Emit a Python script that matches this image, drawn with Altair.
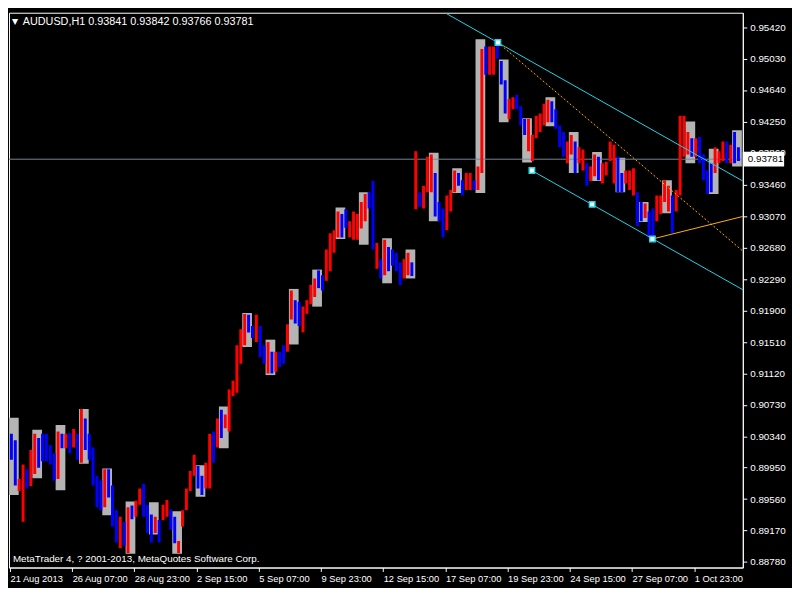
import json
import altair as alt
import pandas as pd

# ---------------- data ----------------
caption_text = "AUDUSD,H1  0.93841 0.93842 0.93766 0.93781"
copyright_text = "MetaTrader 4, ? 2001-2013, MetaQuotes Software Corp."
bid_price = 0.93781

# hourly bars, grouped by 4 hours: high / low / direction (r = up, b = down)
group_high = [
    0.9037, 0.9029, 0.8981, 0.8999, 0.8993, 0.9017, 0.9037, 0.9032, 0.9037, 0.9037,
    0.9023, 0.9013, 0.9040, 0.9037, 0.9037, 0.9038, 0.9043, 0.9037, 0.9068, 0.9056,
    0.9037, 0.9020, 0.8985, 0.8979, 0.8993, 0.8993, 0.8973, 0.8942, 0.8934, 0.8928,
    0.8946, 0.8948, 0.8954, 0.8969, 0.8975, 0.8949, 0.8937, 0.8934, 0.8930, 0.8949,
    0.8955, 0.8943, 0.8934, 0.8904, 0.8942, 0.8969, 0.8991, 0.9011, 0.8997, 0.8985,
    0.9001, 0.9037, 0.9040, 0.9056, 0.9067, 0.9061, 0.9092, 0.9103, 0.9147, 0.9167,
    0.9186, 0.9185, 0.9171, 0.9185, 0.9171, 0.9147, 0.9151, 0.9139, 0.9139, 0.9139,
    0.9147, 0.9173, 0.9215, 0.9203, 0.9201, 0.9195, 0.9203, 0.9222, 0.9230, 0.9240,
    0.9234, 0.9266, 0.9286, 0.9290, 0.9313, 0.9310, 0.9316, 0.9301, 0.9313, 0.9310,
    0.9325, 0.9335, 0.9337, 0.9351, 0.9274, 0.9254, 0.9278, 0.9269, 0.9266, 0.9262,
    0.9250, 0.9254, 0.9262, 0.9250, 0.9388, 0.9337, 0.9345, 0.9381, 0.9384, 0.9361,
    0.9325, 0.9317, 0.9333, 0.9340, 0.9364, 0.9361, 0.9352, 0.9361, 0.9361, 0.9352,
    0.9369, 0.9515, 0.9518, 0.9518, 0.9518, 0.9523, 0.9500, 0.9476, 0.9453, 0.9455,
    0.9458, 0.9444, 0.9428, 0.9428, 0.9408, 0.9432, 0.9435, 0.9447, 0.9452, 0.9450,
    0.9440, 0.9420, 0.9412, 0.9400, 0.9408, 0.9400, 0.9393, 0.9390, 0.9373, 0.9369,
    0.9384, 0.9381, 0.9373, 0.9375, 0.9400, 0.9396, 0.9381, 0.9361, 0.9364, 0.9364,
    0.9367, 0.9337, 0.9325, 0.9323, 0.9313, 0.9317, 0.9333, 0.9333, 0.9352, 0.9345,
    0.9333, 0.9340, 0.9432, 0.9432, 0.9412, 0.9404, 0.9404, 0.9406, 0.9384, 0.9364,
    0.9373, 0.9393, 0.9388, 0.9400, 0.9400, 0.9396, 0.9412, 0.9393,
]
group_low = [
    0.9005, 0.8973, 0.8966, 0.8928, 0.8969, 0.8972, 0.8987, 0.8995, 0.9003, 0.9003,
    0.8999, 0.8979, 0.8981, 0.9019, 0.9019, 0.9013, 0.9020, 0.9005, 0.9001, 0.9017,
    0.9005, 0.8973, 0.8946, 0.8942, 0.8946, 0.8958, 0.8922, 0.8902, 0.8895, 0.8898,
    0.8889, 0.8931, 0.8934, 0.8949, 0.8934, 0.8914, 0.8902, 0.8914, 0.8902, 0.8930,
    0.8934, 0.8918, 0.8901, 0.8889, 0.8922, 0.8942, 0.8966, 0.8985, 0.8969, 0.8961,
    0.8969, 0.8969, 0.9001, 0.9020, 0.9032, 0.9044, 0.9040, 0.9084, 0.9088, 0.9124,
    0.9147, 0.9163, 0.9156, 0.9151, 0.9132, 0.9124, 0.9112, 0.9112, 0.9114, 0.9120,
    0.9124, 0.9139, 0.9179, 0.9174, 0.9171, 0.9163, 0.9186, 0.9198, 0.9207, 0.9218,
    0.9215, 0.9227, 0.9239, 0.9262, 0.9281, 0.9281, 0.9293, 0.9281, 0.9278, 0.9278,
    0.9292, 0.9301, 0.9317, 0.9266, 0.9242, 0.9230, 0.9234, 0.9239, 0.9246, 0.9239,
    0.9222, 0.9230, 0.9234, 0.9233, 0.9316, 0.9319, 0.9317, 0.9337, 0.9337, 0.9307,
    0.9301, 0.9281, 0.9290, 0.9313, 0.9337, 0.9345, 0.9333, 0.9340, 0.9340, 0.9340,
    0.9340, 0.9361, 0.9483, 0.9483, 0.9483, 0.9503, 0.9471, 0.9435, 0.9428, 0.9440,
    0.9440, 0.9420, 0.9408, 0.9388, 0.9376, 0.9404, 0.9412, 0.9420, 0.9424, 0.9424,
    0.9416, 0.9393, 0.9381, 0.9373, 0.9384, 0.9361, 0.9373, 0.9364, 0.9345, 0.9351,
    0.9357, 0.9352, 0.9348, 0.9358, 0.9376, 0.9348, 0.9337, 0.9337, 0.9348, 0.9340,
    0.9333, 0.9295, 0.9301, 0.9305, 0.9281, 0.9281, 0.9301, 0.9310, 0.9325, 0.9313,
    0.9286, 0.9313, 0.9333, 0.9381, 0.9384, 0.9381, 0.9381, 0.9373, 0.9352, 0.9335,
    0.9337, 0.9361, 0.9373, 0.9376, 0.9373, 0.9373, 0.9373, 0.9376,
]
group_dir = (
    "bbrrbrrbbb" "bbrbrbrbrb" "bbbbrbbbrb" "rbrrbbbrbr" "rbbrrrrrbb"
    "rrbrbrrrrr" "rbbrbbrbrb" "brrbbrrrrb" "brrrrbbrrr" "rrbbrbrbbb"
    "brrbrbrrrb" "bbrrrbbrrb" "rrbrrbbbrr" "bbbrrrrrrb" "bbbrrbrrbr"
    "rbrrrrbbrr" "rbbrbbrrrr" "brrrrbrbbb" "brrrbrbb"
)
hours_per_group = 4

# daily session boxes (10 hours each)
session_open_bar = [0, 24, 48, 72, 96, 120, 144, 168, 192, 216, 240, 264, 288, 312, 336, 360,
                    384, 408, 432, 456, 480, 504, 528, 552, 576, 600, 624, 648, 672, 696, 720, 744]
session_hours = 10
session_high = [0.9057, 0.9042, 0.9048, 0.9068, 0.8994, 0.8953, 0.8952, 0.8941, 0.8998, 0.9071,
                0.9187, 0.9154, 0.9217, 0.9241, 0.9318, 0.9337, 0.9280, 0.9266, 0.9386, 0.9367,
                0.9527, 0.9502, 0.9429, 0.9455, 0.9412, 0.9387, 0.9380, 0.9325, 0.9352, 0.9425,
                0.9391, 0.9414]
session_low = [0.8961, 0.8982, 0.8967, 0.9000, 0.8936, 0.8888, 0.8912, 0.8888, 0.8959, 0.9019,
               0.9145, 0.9110, 0.9148, 0.9195, 0.9279, 0.9272, 0.9224, 0.9230, 0.9301, 0.9336,
               0.9336, 0.9424, 0.9374, 0.9419, 0.9361, 0.9351, 0.9337, 0.9300, 0.9311, 0.9373,
               0.9335, 0.9369]

# axes
x_tick_bars = [0, 64, 128, 192, 256, 320, 384, 448, 512, 576, 640, 704]
x_tick_labels = ["21 Aug 2013", "26 Aug 07:00", "28 Aug 23:00", "2 Sep 15:00", "5 Sep 07:00",
                 "9 Sep 23:00", "12 Sep 15:00", "17 Sep 07:00", "19 Sep 23:00", "24 Sep 15:00",
                 "27 Sep 07:00", "1 Oct 23:00"]
y_tick_values = [0.95420, 0.95030, 0.94640, 0.94250, 0.93860, 0.93460, 0.93070, 0.92680, 0.92290,
                 0.91900, 0.91510, 0.91120, 0.90730, 0.90340, 0.89950, 0.89560, 0.89170, 0.88780]
x_domain = [-1, 754]
y_domain = [0.8871, 0.9560]

# drawn objects
channel_upper_bar = [449, 754]
channel_upper_price = [0.9559, 0.9351]
channel_lower_bar = [537, 754]
channel_lower_price = [0.9364, 0.9216]
anchor_bar = [502, 537, 599, 661]
anchor_price = [0.9523, 0.9364, 0.9322, 0.9279]
dotted_line_bar = [502, 754]
dotted_line_price = [0.9523, 0.9264]
solid_line_bar = [661, 754]
solid_line_price = [0.9279, 0.9307]

# ---------------- chart ----------------
W, H = 746, 564
FONT = "Liberation Sans"
CYAN = "#22D6EA"
GOLD = "#FFB400"

xs = alt.Scale(domain=x_domain, nice=False, zero=False)
ys = alt.Scale(domain=y_domain, nice=False, zero=False)

label_expr = f"{json.dumps(x_tick_labels)}[indexof({json.dumps(x_tick_bars)}, datum.value)]"

x_axis = alt.Axis(values=x_tick_bars, labelExpr=label_expr, orient="bottom", labelAlign="left",
                  labelColor="white", tickColor="white", domainColor="white", tickSize=4,
                  labelPadding=2, labelFont=FONT, labelFontSize=9.5, grid=False, title=None,
                  labelOverlap=False, labelFlush=False)
y_axis = alt.Axis(values=y_tick_values, format=".5f", orient="right", labelColor="white",
                  tickColor="white", domainColor="white", tickSize=4, labelPadding=3,
                  labelFont=FONT, labelFontSize=10, grid=False, title=None, labelOverlap=False,
                  labelFlush=False)


def X(field):
    return alt.X(field, scale=xs, axis=x_axis)


def Y(field):
    return alt.Y(field, scale=ys, axis=y_axis)


bars = pd.DataFrame({
    "bar": [i * hours_per_group + (hours_per_group - 1) / 2 for i in range(len(group_high))],
    "high": group_high, "low": group_low, "dir": list(group_dir),
})
sessions = pd.DataFrame({
    "x0": [b - 1 for b in session_open_bar],
    "x1": [b + session_hours - 1 for b in session_open_bar],
    "high": session_high, "low": session_low,
})

box_layer = alt.Chart(sessions).mark_rect(color="#B4B4B4", clip=True).encode(
    x=X("x0:Q"), x2="x1:Q", y=Y("high:Q"), y2="low:Q")

bid_layer = alt.Chart(pd.DataFrame({"p": [bid_price]})).mark_rule(
    color="#778899", strokeWidth=1).encode(y=Y("p:Q"))

bar_layer = alt.Chart(bars).mark_rule(strokeWidth=3, clip=True).encode(
    x=X("bar:Q"), y=Y("high:Q"), y2="low:Q",
    color=alt.Color("dir:N", scale=alt.Scale(domain=["r", "b"], range=["#FF0000", "#0000FF"]),
                    legend=None),
)


def line_layer(bx, pr, color, dash=None):
    mk = dict(color=color, strokeWidth=1, clip=True)
    if dash:
        mk["strokeDash"] = dash
    return alt.Chart(pd.DataFrame({"bar": bx, "price": pr})).mark_line(**mk).encode(
        x=X("bar:Q"), y=Y("price:Q"))


upper = line_layer(channel_upper_bar, channel_upper_price, CYAN)
lower = line_layer(channel_lower_bar, channel_lower_price, CYAN)
dotted = line_layer(dotted_line_bar, dotted_line_price, GOLD, [2, 2])
solid = line_layer(solid_line_bar, solid_line_price, GOLD)

anchors = alt.Chart(pd.DataFrame({"bar": anchor_bar, "price": anchor_price})).mark_square(
    size=30, filled=True, color="white", stroke=CYAN, strokeWidth=1.5, opacity=1).encode(
    x=X("bar:Q"), y=Y("price:Q"))

price_df = pd.DataFrame({"p": [bid_price], "t": [f"{bid_price:.5f}"]})
price_box = alt.Chart(price_df).mark_rule(color="white", strokeWidth=15, strokeCap="butt").encode(
    x=alt.value(W), x2=alt.value(W + 42), y=Y("p:Q"))
price_txt = alt.Chart(price_df).mark_text(
    align="left", baseline="middle", color="black", font=FONT, fontSize=10).encode(
    x=alt.value(W + 5), y=Y("p:Q"), text="t:N")

caption = alt.Chart(pd.DataFrame({"t": [caption_text]})).mark_text(
    align="left", baseline="top", color="white", font=FONT, fontSize=11).encode(
    x=alt.value(14), y=alt.value(3), text="t:N")
triangle = alt.Chart(pd.DataFrame({"t": ["▼"]})).mark_text(
    align="left", baseline="top", color="white", font="DejaVu Sans", fontSize=8).encode(
    x=alt.value(3), y=alt.value(5), text="t:N")
copyright_layer = alt.Chart(pd.DataFrame({"t": [copyright_text]})).mark_text(
    align="left", baseline="middle", color="white", font=FONT, fontSize=10).encode(
    x=alt.value(4), y=alt.value(H - 9), text="t:N")

chart = alt.layer(
    box_layer, bid_layer, bar_layer, upper, lower, dotted, solid, anchors,
    price_box, price_txt, caption, triangle, copyright_layer,
).properties(
    width=W, height=H, background="black",
    padding={"left": 0, "top": 0, "right": 0, "bottom": 0},
).configure_view(stroke="white", strokeWidth=1, fill="black")

chart.save("out.html", embed_options={"renderer": "svg", "actions": False})
